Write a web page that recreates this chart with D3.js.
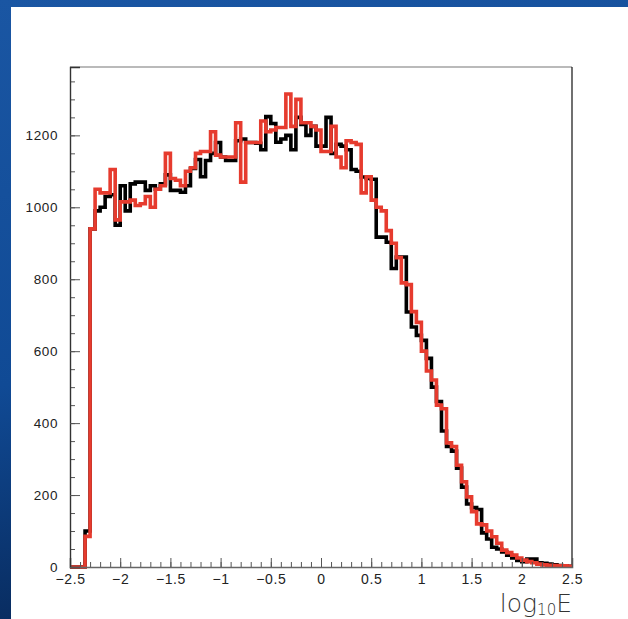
<!DOCTYPE html>
<html>
<head>
<script src="https://d3js.org/d3.v7.min.js"></script>
<style>
  body { margin: 0; background: #0d448f; }
  svg { display: block; }
</style>
</head>
<body>
<script>
// histogram binning: 100 bins of 0.05 from -2.5 to 2.5
var binLow = -2.5, binWidth = 0.05;

var blackCounts = [
  0, 0, 0, 100, 940, 990, 1000, 1030, 1035, 950,
  1060, 990, 1065, 1070, 1070, 1047, 1060, 1050, 1065, 1090,
  1047, 1047, 1042, 1060, 1108, 1133, 1085, 1130, 1150, 1180,
  1140, 1130, 1130, 1185, 1190, 1180, 1180, 1178, 1160, 1252,
  1233, 1181, 1190, 1200, 1160, 1250, 1230, 1200, 1225, 1170,
  1170, 1250, 1150, 1175, 1170, 1160, 1105, 1100, 1084, 1080,
  1078, 917, 917, 903, 830, 862, 862, 709, 667, 644,
  630, 580, 500, 460, 378, 335, 322, 275, 222, 175,
  165, 160, 95, 78, 55, 50, 42, 33, 25, 18,
  15, 22, 22, 12, 10, 8, 6, 4, 3, 2
];

var redCounts = [
  0, 0, 0, 85, 940, 1050, 1040, 1040, 1105, 965,
  1015, 1015, 1020, 1005, 1010, 1030, 1000, 1050, 1060, 1150,
  1080, 1075, 1060, 1100, 1110, 1150, 1155, 1155, 1210, 1145,
  1140, 1140, 1140, 1235, 1070, 1180, 1180, 1180, 1240, 1210,
  1215, 1222, 1222, 1315, 1225, 1300, 1235, 1235, 1225, 1215,
  1155, 1155, 1225, 1140, 1110, 1185, 1180, 1175, 1040, 1085,
  1020, 1000, 990, 935, 900, 860, 790, 785, 710, 680,
  600, 545, 520, 450, 440, 345, 335, 283, 237, 195,
  154, 120, 117, 100, 84, 66, 47, 40, 33, 25,
  19, 15, 12, 8, 6, 5, 4, 3, 3, 2
];

var xTickValues = [-2.5, -2, -1.5, -1, -0.5, 0, 0.5, 1, 1.5, 2, 2.5];
var yTickValues = [0, 200, 400, 600, 800, 1000, 1200];

var width = 628, height = 619;
var margin = {left: 70, right: 56, top: 67, bottom: 52};

var svg = d3.select("body").append("svg")
  .attr("width", width)
  .attr("height", height);

// slide background
var defs = svg.append("defs");
var grad = defs.append("linearGradient").attr("id", "bg")
  .attr("x1", 0).attr("y1", 0).attr("x2", 0.2).attr("y2", 1);
grad.append("stop").attr("offset", "0%").attr("stop-color", "#1a56a3");
grad.append("stop").attr("offset", "60%").attr("stop-color", "#104a95");
grad.append("stop").attr("offset", "100%").attr("stop-color", "#082a5c");
svg.append("rect").attr("width", width).attr("height", height).attr("fill", "url(#bg)");

// white canvas
svg.append("rect")
  .attr("x", 11).attr("y", 7)
  .attr("width", width - 11).attr("height", height - 7)
  .attr("fill", "#fff");

var x = d3.scaleLinear().domain([-2.5, 2.5]).range([margin.left, width - margin.right]);
var y = d3.scaleLinear().domain([0, 1390]).range([height - margin.bottom, margin.top]);

var x0 = x.range()[0], x1 = x.range()[1];
var y0 = y.range()[0], y1 = y.range()[1];

// frame
svg.append("line").attr("x1", x0).attr("x2", x1).attr("y1", y1).attr("y2", y1)
  .attr("stroke", "#777").attr("stroke-width", 1.2);
svg.append("line").attr("x1", x1).attr("x2", x1).attr("y1", y1).attr("y2", y0)
  .attr("stroke", "#111").attr("stroke-width", 1.2);

function histPoints(counts) {
  var pts = counts.map(function(c, i) { return [binLow + i * binWidth, c]; });
  pts.push([binLow + counts.length * binWidth, counts[counts.length - 1]]);
  return pts;
}

var line = d3.line()
  .x(function(d) { return x(d[0]); })
  .y(function(d) { return y(d[1]); })
  .curve(d3.curveStepAfter);

svg.append("path")
  .attr("d", line(histPoints(blackCounts)))
  .attr("fill", "none")
  .attr("stroke", "#000")
  .attr("stroke-width", 3.6);

svg.append("path")
  .attr("d", line(histPoints(redCounts)))
  .attr("fill", "none")
  .attr("stroke", "#e63b2e")
  .attr("stroke-width", 3.6);

// x axis: minor ticks then major ticks with labels
var fmt = function(d) { return String(d).replace("-", "\u2212"); };

var xMinor = d3.axisBottom(x).tickValues(d3.range(-25, 26).map(function(v) { return v / 10; }))
  .tickSize(-5).tickFormat("");
svg.append("g").attr("transform", "translate(0," + y0 + ")").call(xMinor)
  .call(function(g) { g.selectAll("line,path").attr("stroke", "#555"); });

var xAxis = d3.axisBottom(x).tickValues(xTickValues).tickSize(-9).tickPadding(7).tickFormat(fmt);
var gx = svg.append("g").attr("transform", "translate(0," + y0 + ")").call(xAxis);
gx.select(".domain").attr("stroke", "#666").attr("stroke-width", 1.6);
gx.selectAll(".tick line").attr("stroke", "#555");
gx.selectAll("text").attr("font-family", "Liberation Sans, Arial, sans-serif")
  .attr("font-size", 14).attr("letter-spacing", 0.6).attr("fill", "#222");

var yMinor = d3.axisLeft(y).tickValues(d3.range(0, 1351, 50)).tickSize(-5).tickFormat("");
svg.append("g").attr("transform", "translate(" + x0 + ",0)").call(yMinor)
  .call(function(g) { g.selectAll("line,path").attr("stroke", "#555"); });

var yAxis = d3.axisLeft(y).tickValues(yTickValues).tickSize(-10).tickPadding(12)
  .tickFormat(d3.format("d"));
var gy = svg.append("g").attr("transform", "translate(" + x0 + ",0)").call(yAxis);
gy.select(".domain").attr("stroke", "#333").attr("stroke-width", 1.4);
gy.selectAll(".tick line").attr("stroke", "#555");
gy.selectAll("text").attr("font-family", "Liberation Sans, Arial, sans-serif")
  .attr("font-size", 13.5).attr("letter-spacing", 0.6).attr("fill", "#222");

// axis title
var title = svg.append("text")
  .attr("x", x1).attr("y", 612)
  .attr("text-anchor", "end")
  .attr("font-family", "DejaVu Sans, sans-serif")
  .attr("font-weight", 200)
  .attr("font-size", 25)
  .attr("fill", "#333");
title.append("tspan").text("log");
title.append("tspan").attr("font-size", 15).attr("dy", 3).text("10");
title.append("tspan").attr("dy", -3).text("E");
</script>
</body>
</html>
